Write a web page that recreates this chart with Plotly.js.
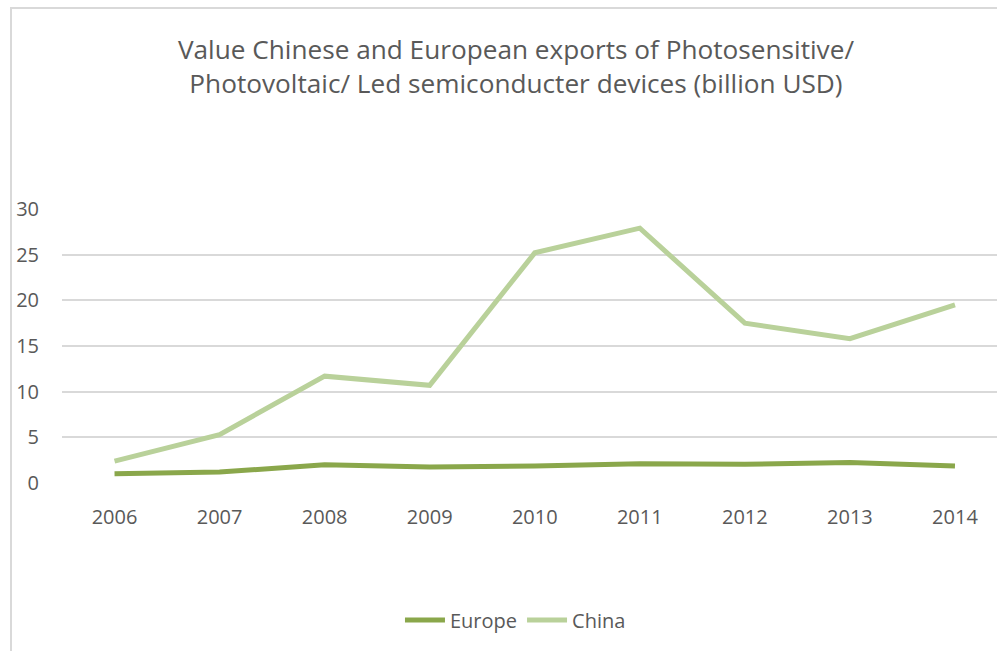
<!DOCTYPE html>
<html>
<head>
<meta charset="utf-8">
<script src="https://cdn.plot.ly/plotly-3.0.1.min.js"></script>
<style>
html,body{margin:0;padding:0;background:#fff;overflow:hidden;}
#chart{width:997px;height:651px;position:absolute;left:0;top:0;}
#frame{position:absolute;left:10px;top:7px;width:1000px;height:700px;border-left:2px solid #d9d9d9;border-top:2px solid #d9d9d9;pointer-events:none;}
</style>
</head>
<body>
<div id="chart"></div>
<div id="frame"></div>
<script>
const years = ['2006','2007','2008','2009','2010','2011','2012','2013','2014'];
const europe = [1.0, 1.2, 2.0, 1.75, 1.85, 2.1, 2.05, 2.25, 1.85];
const china = [2.4, 5.3, 11.7, 10.7, 25.2, 27.9, 17.5, 15.8, 19.5];
const yTicks = [0, 5, 10, 15, 20, 25, 30];

const fontFam = 'Open Sans, sans-serif';
const traces = [
  {x: years, y: europe, name: 'Europe', type: 'scatter', mode: 'lines',
   line: {color: '#8aa74b', width: 5}},
  {x: years, y: china, name: 'China', type: 'scatter', mode: 'lines',
   line: {color: '#b9d19a', width: 5}}
];
const layout = {
  width: 997, height: 651,
  margin: {l: 62, r: 0, t: 209, b: 168},
  paper_bgcolor: '#fff', plot_bgcolor: '#fff',
  font: {family: fontFam, color: '#595959', size: 19},
  title: {text: 'Value Chinese and European exports of Photosensitive/<br>Photovoltaic/ Led semiconducter devices (billion USD)',
          font: {family: fontFam, size: 26.2, color: '#595959'},
          x: 0.5175, xanchor: 'center', y: 0.91, yanchor: 'top', yref: 'container'},
  xaxis: {type: 'category', range: [-0.5, 8.4], showgrid: false, zeroline: false,
          showline: false, ticks: '', ticklabelstandoff: 20,
          tickfont: {family: fontFam, size: 20, color: '#595959'}},
  yaxis: {range: [0, 30], tickvals: yTicks, showgrid: true, gridcolor: '#d9d9d9', gridwidth: 2,
          zeroline: false, showline: false, ticks: '', ticklabelstandoff: 22,
          tickfont: {family: fontFam, size: 20, color: '#595959'}},
  showlegend: true,
  legend: {orientation: 'h', x: 0.485, xanchor: 'center', y: -0.5, yanchor: 'middle',
           font: {family: fontFam, size: 20, color: '#595959'}, itemwidth: 40}
};
Plotly.newPlot('chart', traces, layout, {displayModeBar: false, staticPlot: true});
</script>
</body>
</html>
